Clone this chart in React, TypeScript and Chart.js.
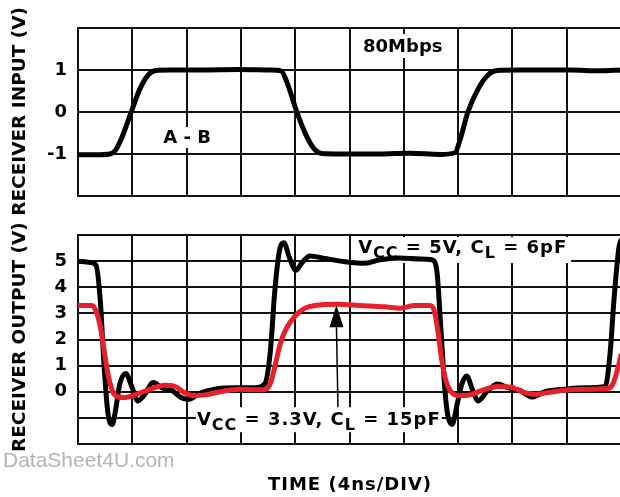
import { useEffect, useRef } from "react";
import { Chart, registerables } from "chart.js";

Chart.register(...registerables);

const FONT = '"DejaVu Sans", Verdana, sans-serif';

// Time axis in divisions (4 ns / DIV), 10 divisions
const timeMin = 0;
const timeMax = 10;

// Receiver input A - B (V)
const inputX = [0, 0.31, 0.59, 0.68, 0.81, 0.98, 1.14, 1.29, 1.44, 1.69, 2.25, 2.98, 3.54, 3.74, 3.85, 4.03, 4.2, 4.35, 4.49, 4.83, 5.56, 6.11, 6.67, 6.94, 7.05, 7.18, 7.37, 7.55, 7.72, 8.14, 9.06, 9.61, 10];
const inputV = [-1.02, -1.02, -1.0, -0.93, -0.6, 0, 0.55, 0.88, 0.99, 1.0, 1.0, 1.01, 1.0, 0.98, 0.7, 0, -0.55, -0.88, -0.99, -1.0, -1.0, -0.98, -1.01, -0.97, -0.6, 0, 0.55, 0.88, 0.99, 1.0, 1.0, 0.98, 1.0];

// Receiver output, VCC = 5V, CL = 6pF
const out5X = [0, 0.22, 0.33, 0.41, 0.48, 0.55, 0.63, 0.7, 0.77, 0.88, 0.99, 1.1, 1.23, 1.38, 1.55, 1.73, 1.88, 2.03, 2.25, 2.52, 2.89, 3.26, 3.44, 3.54, 3.63, 3.72, 3.79, 3.9, 4.01, 4.13, 4.27, 4.55, 4.92, 5.29, 5.56, 5.93, 6.3, 6.52, 6.61, 6.68, 6.76, 6.81, 6.89, 6.98, 7.07, 7.16, 7.26, 7.37, 7.53, 7.72, 7.92, 8.14, 8.36, 8.6, 8.97, 9.34, 9.71, 9.8, 9.87, 9.96, 10];
const out5V = [5.0, 4.95, 4.85, 3.5, 1.0, -0.8, -1.25, -0.6, 0.3, 0.7, 0.2, -0.35, -0.1, 0.35, 0.15, 0.05, -0.2, -0.3, -0.05, 0.1, 0.15, 0.15, 0.3, 1.5, 4.0, 5.5, 5.7, 5.1, 4.65, 4.95, 5.2, 5.1, 4.98, 4.92, 5.05, 5.12, 5.08, 5.05, 4.6, 2.5, 0.0, -0.9, -1.25, -0.5, 0.3, 0.6, 0.1, -0.35, 0.0, 0.3, 0.15, 0.05, -0.2, 0.0, 0.1, 0.15, 0.2, 1.5, 3.5, 5.5, 5.8];

// Receiver output, VCC = 3.3V, CL = 15pF
const out33X = [0, 0.26, 0.33, 0.41, 0.48, 0.55, 0.64, 0.74, 0.87, 1.05, 1.33, 1.6, 1.79, 1.97, 2.12, 2.34, 2.62, 2.98, 3.26, 3.44, 3.54, 3.63, 3.72, 3.83, 4.0, 4.18, 4.36, 4.77, 5.19, 5.65, 5.93, 6.2, 6.48, 6.56, 6.63, 6.7, 6.78, 6.89, 7.03, 7.22, 7.44, 7.72, 7.96, 8.18, 8.42, 8.69, 9.06, 9.43, 9.76, 9.85, 9.93, 10];
const out33V = [3.3, 3.3, 3.1, 2.5, 1.6, 0.7, 0.0, -0.2, -0.22, -0.12, 0.1, 0.25, 0.2, -0.05, -0.15, -0.12, 0.0, 0.1, 0.08, 0.08, 0.3, 1.0, 1.8, 2.4, 2.9, 3.2, 3.3, 3.35, 3.3, 3.25, 3.2, 3.3, 3.3, 3.1, 2.3, 1.2, 0.4, -0.05, -0.15, -0.12, 0.05, 0.2, 0.18, 0.0, -0.1, -0.02, 0.08, 0.1, 0.12, 0.3, 0.8, 1.4];

// Axes
const inputRange = [-2, 2];
const inputTicks = [-1, 0, 1];
const outputRange = [-2, 6];
const outputTicks = [0, 1, 2, 3, 4, 5];

const xTitle = "TIME (4ns/DIV)";
const yTitle = "RECEIVER OUTPUT (V) RECEIVER INPUT (V)";
const rateLabel = "80Mbps";
const diffLabel = "A - B";
const label5 = [
  { t: "V", sub: false },
  { t: "CC", sub: true },
  { t: " = 5V, C", sub: false },
  { t: "L", sub: true },
  { t: " = 6pF", sub: false },
];
const label33 = [
  { t: "V", sub: false },
  { t: "CC", sub: true },
  { t: " = 3.3V, C", sub: false },
  { t: "L", sub: true },
  { t: " = 15pF", sub: false },
];
const watermark = "DataSheet4U.com";

const W = 626;
const H = 497;

const toPts = (xs: number[], ys: number[]) => xs.map((x, i) => ({ x, y: ys[i] }));

type Seg = { t: string; sub: boolean };

function setSegFont(ctx: CanvasRenderingContext2D, sub: boolean) {
  ctx.font = sub ? `bold 16px ${FONT}` : `bold 18px ${FONT}`;
  (ctx as any).letterSpacing = "1px";
}

function richWidth(ctx: CanvasRenderingContext2D, segs: Seg[]) {
  let w = 0;
  for (const s of segs) {
    setSegFont(ctx, s.sub);
    w += ctx.measureText(s.t).width;
  }
  (ctx as any).letterSpacing = "0px";
  return w;
}

function drawRich(ctx: CanvasRenderingContext2D, segs: Seg[], x: number, y: number) {
  let cx = x;
  ctx.textAlign = "left";
  ctx.textBaseline = "alphabetic";
  ctx.fillStyle = "#000";
  for (const s of segs) {
    setSegFont(ctx, s.sub);
    ctx.fillText(s.t, cx, s.sub ? y + 5 : y);
    cx += ctx.measureText(s.t).width;
  }
  (ctx as any).letterSpacing = "0px";
}

const fitScale = (s: any) => {
  s.paddingTop = 0;
  s.paddingBottom = 0;
  s.paddingLeft = 0;
  s.paddingRight = 0;
};

function makeScales(range: number[], ticks: number[]) {
  return {
    x: {
      type: "linear" as const,
      min: timeMin,
      max: timeMax,
      ticks: { display: false, stepSize: 1 },
      grid: { color: "#111", lineWidth: 2, drawTicks: false },
      border: { color: "#111", width: 2 },
      afterFit: (s: any) => {
        s.height = 0;
        fitScale(s);
      },
    },
    y: {
      type: "linear" as const,
      min: range[0],
      max: range[1],
      ticks: {
        stepSize: 1,
        padding: 11,
        color: "#000",
        font: { family: FONT, size: 18, weight: "bold" as const },
        callback: (v: any) => (ticks.includes(Number(v)) ? String(v) : ""),
      },
      grid: { color: "#111", lineWidth: 2, drawTicks: false },
      border: { color: "#111", width: 2 },
      afterFit: (s: any) => {
        s.width = 78;
        fitScale(s);
      },
    },
  };
}

export default function App() {
  const topRef = useRef<HTMLCanvasElement>(null);
  const botRef = useRef<HTMLCanvasElement>(null);

  useEffect(() => {
    const topPlugin = {
      id: "topAnnot",
      beforeDatasetsDraw(chart: any) {
        const { ctx, scales } = chart;
        const x = scales.x, y = scales.y;
        ctx.save();
        ctx.font = `bold 18px ${FONT}`;
        // 80Mbps
        const rx = x.getPixelForValue(5.25), ry = y.getPixelForValue(1.43);
        const rw = ctx.measureText(rateLabel).width;
        ctx.fillStyle = "#fff";
        ctx.fillRect(rx - 3, ry - 18, rw + 6, 24);
        // A - B
        const ax = x.getPixelForValue(1.57), ay = y.getPixelForValue(-0.74);
        const aw = ctx.measureText(diffLabel).width;
        ctx.fillRect(ax - 3, ay - 16, aw + 6, 21);
        ctx.fillStyle = "#000";
        ctx.textAlign = "left";
        ctx.textBaseline = "alphabetic";
        ctx.fillText(rateLabel, rx, ry);
        ctx.fillText(diffLabel, ax, ay);
        ctx.restore();
      },
    };

    const botPlugin = {
      id: "botAnnot",
      beforeDatasetsDraw(chart: any) {
        const { ctx, scales } = chart;
        const x = scales.x, y = scales.y;
        ctx.save();
        // VCC = 5V box
        const bx = x.getPixelForValue(5.16), by = y.getPixelForValue(5.31);
        const bw = richWidth(ctx, label5);
        ctx.fillStyle = "#fff";
        ctx.fillRect(bx - 5, by - 16, bw + 9, 26);
        // VCC = 3.3V box
        const cx = x.getPixelForValue(2.19), cy = y.getPixelForValue(-1.28);
        const cw = richWidth(ctx, label33);
        ctx.fillRect(cx - 1, cy - 18, cw + 2, 25);
        ctx.restore();
      },
      afterDatasetsDraw(chart: any) {
        const { ctx, scales } = chart;
        const x = scales.x, y = scales.y;
        ctx.save();
        drawRich(ctx, label5, x.getPixelForValue(5.16), y.getPixelForValue(5.31));
        drawRich(ctx, label33, x.getPixelForValue(2.19), y.getPixelForValue(-1.28));

        // arrow
        const ax = x.getPixelForValue(4.76);
        const tip = y.getPixelForValue(3.32);
        const base = y.getPixelForValue(2.47);
        const tail = y.getPixelForValue(-0.59);
        ctx.strokeStyle = "#000";
        ctx.lineWidth = 1.5;
        ctx.beginPath();
        ctx.moveTo(ax + 1.5, tail);
        ctx.lineTo(ax, base);
        ctx.stroke();
        ctx.fillStyle = "#000";
        ctx.beginPath();
        ctx.moveTo(ax, tip);
        ctx.lineTo(ax - 7, base);
        ctx.lineTo(ax + 7, base);
        ctx.closePath();
        ctx.fill();

        // x title
        ctx.font = `bold 18px ${FONT}`;
        (ctx as any).letterSpacing = "1px";
        ctx.textAlign = "center";
        ctx.textBaseline = "alphabetic";
        ctx.fillText(xTitle, 350, 490);
        (ctx as any).letterSpacing = "0px";

        // y title
        ctx.save();
        ctx.translate(25, 452);
        ctx.rotate(-Math.PI / 2);
        ctx.font = `bold 17px ${FONT}`;
        const tw = ctx.measureText(yTitle).width;
        ctx.scale(445 / tw, 1);
        ctx.textAlign = "left";
        ctx.fillText(yTitle, 0, 0);
        ctx.restore();

        // watermark
        ctx.font = `21px "Liberation Sans", Arial, sans-serif`;
        ctx.fillStyle = "#b4b4b4";
        ctx.textAlign = "left";
        ctx.fillText(watermark, 3, 467);
        ctx.restore();
      },
    };

    const common = {
      responsive: false,
      animation: false as const,
      events: [] as any[],
      plugins: { legend: { display: false }, tooltip: { enabled: false } },
      elements: { point: { radius: 0 } },
    };

    const top = new Chart(topRef.current!, {
      type: "line",
      data: {
        datasets: [
          {
            data: toPts(inputX, inputV),
            borderColor: "#000",
            borderWidth: 5,
            cubicInterpolationMode: "monotone",
            borderCapStyle: "round",
            borderJoinStyle: "round",
            pointRadius: 0,
          },
        ],
      },
      options: {
        ...common,
        layout: { autoPadding: false, padding: { left: 0, top: 28, right: W - 621, bottom: H - 196 } },
        scales: makeScales(inputRange, inputTicks),
      } as any,
      plugins: [topPlugin],
    });

    const bot = new Chart(botRef.current!, {
      type: "line",
      data: {
        datasets: [
          {
            data: toPts(out33X, out33V),
            borderColor: "#e8202a",
            borderWidth: 5,
            cubicInterpolationMode: "monotone",
            borderCapStyle: "round",
            borderJoinStyle: "round",
            pointRadius: 0,
            order: 0,
          },
          {
            data: toPts(out5X, out5V),
            borderColor: "#000",
            borderWidth: 5,
            cubicInterpolationMode: "monotone",
            borderCapStyle: "round",
            borderJoinStyle: "round",
            pointRadius: 0,
            order: 1,
          },
        ],
      },
      options: {
        ...common,
        layout: { autoPadding: false, padding: { left: 0, top: 235, right: W - 621, bottom: H - 444 } },
        scales: makeScales(outputRange, outputTicks),
      } as any,
      plugins: [botPlugin],
    });

    return () => {
      top.destroy();
      bot.destroy();
    };
  }, []);

  return (
    <div
      style={{
        position: "absolute",
        left: 0,
        top: 0,
        width: 620,
        height: 497,
        overflow: "hidden",
        background: "#fff",
      }}
    >
      <canvas ref={botRef} width={W} height={H} style={{ position: "absolute", left: 0, top: 0 }} />
      <canvas ref={topRef} width={W} height={H} style={{ position: "absolute", left: 0, top: 0 }} />
    </div>
  );
}
